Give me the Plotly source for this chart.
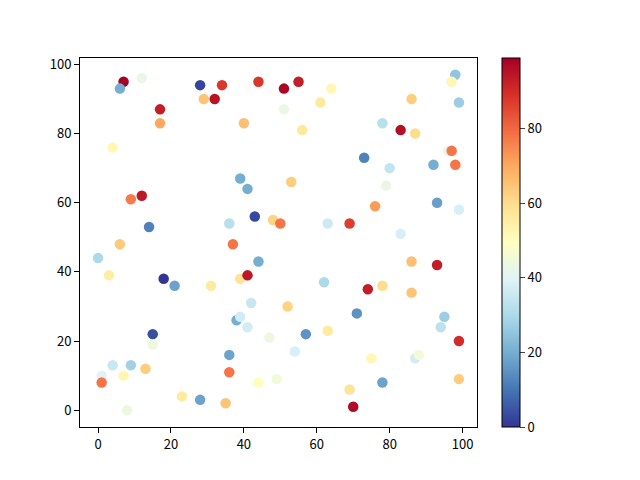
import plotly.graph_objects as go

# point data
x_vals = [7, 12, 6, 28, 34, 44, 29, 32, 17, 17, 40, 4, 39, 41, 9, 12, 14, 36, 43, 48,
          50, 6, 37, 51, 55, 64, 61, 51, 56, 86, 98, 97, 99, 78, 83, 87, 96, 97, 98, 92,
          73, 80, 79, 53, 93, 99, 76, 63, 69, 83, 0, 44, 3, 18, 21, 31, 39, 41, 42, 38,
          39, 41, 47, 15, 15, 36, 36, 4, 9, 13, 1, 1, 7, 8, 23, 28, 35, 44, 49, 86,
          93, 62, 74, 78, 86, 52, 71, 95, 94, 57, 63, 99, 54, 75, 87, 88, 78, 99, 69, 70]
y_vals = [95, 96, 93, 94, 94, 95, 90, 90, 87, 83, 83, 76, 67, 64, 61, 62, 53, 54, 56, 55,
          54, 48, 48, 93, 95, 93, 89, 87, 81, 90, 97, 95, 89, 83, 81, 80, 75, 75, 71, 71,
          73, 70, 65, 66, 60, 58, 59, 54, 54, 51, 44, 43, 39, 38, 36, 36, 38, 39, 31, 26,
          27, 24, 21, 22, 19, 16, 11, 13, 13, 12, 10, 8, 10, 0, 4, 3, 2, 8, 9, 43,
          42, 37, 35, 36, 34, 30, 28, 27, 24, 22, 23, 20, 17, 15, 15, 16, 8, 9, 6, 1]
c_vals = [99, 43, 20, 2, 88, 88, 65, 95, 93, 70, 66, 52, 20, 20, 77, 94, 12, 32, 3, 62,
          78, 64, 78, 98, 93, 52, 56, 43, 57, 63, 25, 52, 27, 32, 96, 60, 42, 78, 78, 20,
          12, 34, 43, 63, 17, 38, 72, 36, 87, 38, 30, 20, 55, 0, 18, 56, 58, 94, 35, 20,
          37, 37, 44, 4, 44, 18, 78, 35, 28, 63, 40, 78, 52, 44, 56, 18, 65, 50, 45, 66,
          93, 30, 93, 60, 65, 62, 15, 27, 33, 15, 56, 90, 38, 52, 37, 45, 18, 63, 58, 97]

fig = go.Figure(go.Scatter(
    x=x_vals, y=y_vals, mode='markers',
    marker=dict(size=10.5, color=c_vals, colorscale='RdYlBu_r', cmin=min(c_vals), cmax=max(c_vals),
                line=dict(width=0),
                colorbar=dict(x=1.063, xanchor='left', xpad=0, y=0.5, len=1, ypad=0, thickness=18,
                              outlinewidth=1, outlinecolor='black', ticks='outside', ticklen=5,
                              tickvals=[0, 20, 40, 60, 80], tickfont=dict(size=13, color='black'))),
))

axis_style = dict(showline=True, mirror=True, linecolor='black', linewidth=1, showgrid=False,
                  zeroline=False, ticks='outside', ticklen=5, tickcolor='black',
                  tickvals=[0, 20, 40, 60, 80, 100], tickfont=dict(size=13, color='black'))
fig.update_xaxes(range=[-4.95, 103.95], **axis_style)
fig.update_yaxes(range=[-4.85, 101.85], **axis_style)
# page has an 8px body margin, so shift the margins to compensate
fig.update_layout(width=640, height=480, plot_bgcolor='white', paper_bgcolor='white',
                  margin=dict(l=72, r=171, t=50, b=61), showlegend=False,
                  font=dict(family='Noto Sans CJK SC', size=13, color='black'))
fig.write_html('out.html')
